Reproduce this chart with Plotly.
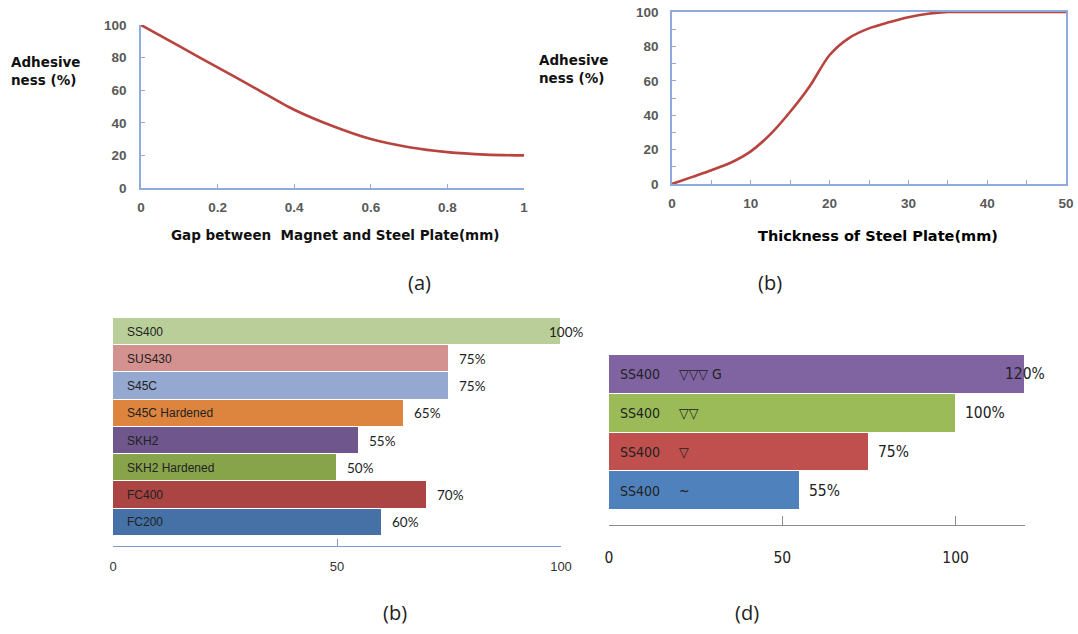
import plotly.graph_objects as go

W, H = 1078, 634

# (a) adhesive force against the air gap between magnet and plate
gap_mm = [0, 0.1, 0.2, 0.3, 0.4, 0.5, 0.6, 0.7, 0.8, 0.9, 1.0]
adhesion_gap = [100, 87, 74, 61, 48, 38, 30, 25, 22, 20.5, 20]

# (b) adhesive force against steel plate thickness
thickness_mm = [0, 2.5, 5, 7.5, 10, 12.5, 15, 17.5, 20, 22.5, 25, 27.5, 30, 32.5, 35, 40, 50]
adhesion_thickness = [0, 4, 8, 12.5, 19, 29, 42, 57, 75, 85, 90.5, 94, 97, 99, 100, 100, 100]

# (b) adhesive force by material (listed top to bottom)
materials = ["SS400", "SUS430", "S45C", "S45C Hardened", "SKH2",
             "SKH2 Hardened", "FC400", "FC200"]
material_adhesion = [100, 75, 75, 65, 55, 50, 70, 60]
material_colors = ["#B9CE98", "#D39190", "#95A9D0", "#DD843F",
                   "#6F568C", "#88A44B", "#AA4544", "#4571A6"]
material_ticks = [0, 50, 100]

# (d) adhesive force by surface finish of SS400 (listed top to bottom)
grade = "SS400"
finishes = ["▽▽▽ G", "▽▽", "▽", "~"]
finish_adhesion = [120, 100, 75, 55]
finish_colors = ["#8064A2", "#9BBB59", "#C0504D", "#4F81BD"]
finish_ticks = [0, 50, 100]

captions = ["(a)", "(b)", "(b)", "(d)"]


def fx(x):
    return x / W


def fy(y):
    return 1 - y / H


AXIS_BLUE = "#8FAADC"
CURVE_RED = "#B8433F"
TOP_FONT = "Liberation Sans"
TITLE_FONT = "DejaVu Sans"
CAL_FONT = "Lato"
ARIAL = "Liberation Sans"
NARROW_FONT = "Liberation Sans Narrow, DejaVu Sans Condensed, Liberation Sans"

fig = go.Figure()

fig.add_trace(go.Scatter(
    x=gap_mm, y=adhesion_gap, mode="lines",
    line=dict(color=CURVE_RED, width=2.6, shape="spline", smoothing=0.8),
    xaxis="x", yaxis="y", cliponaxis=False, showlegend=False))

fig.add_trace(go.Scatter(
    x=thickness_mm, y=adhesion_thickness, mode="lines",
    line=dict(color=CURVE_RED, width=2.6, shape="spline", smoothing=0.8),
    xaxis="x2", yaxis="y2", cliponaxis=False, showlegend=False))

fig.add_trace(go.Bar(
    x=material_adhesion, y=materials, orientation="h",
    marker=dict(color=material_colors, line=dict(color="white", width=1)),
    xaxis="x3", yaxis="y3", showlegend=False))

fig.add_trace(go.Bar(
    x=finish_adhesion, y=finishes, orientation="h",
    marker=dict(color=finish_colors, line=dict(color="white", width=1)),
    xaxis="x4", yaxis="y4", showlegend=False))

tick_top = dict(family=TOP_FONT, size=13.5, color="#595959", weight="bold")

layout = dict(
    width=W, height=H,
    margin=dict(l=0, r=0, t=0, b=0, pad=0, autoexpand=False),
    paper_bgcolor="white", plot_bgcolor="white",
    bargap=0,
    # (a)
    xaxis=dict(domain=[fx(141), fx(524)], range=[0, 1], dtick=0.2,
               showline=True, linecolor=AXIS_BLUE, linewidth=1.5,
               ticks="inside", ticklen=4, tickcolor=AXIS_BLUE,
               showgrid=False, zeroline=False, tickfont=tick_top,
               ticklabelstandoff=6, anchor="y", automargin=False),
    yaxis=dict(domain=[fy(188), fy(25)], range=[0, 100], dtick=20,
               showline=True, linecolor=AXIS_BLUE, linewidth=1.5,
               ticks="inside", ticklen=4, tickcolor=AXIS_BLUE,
               showgrid=False, zeroline=False, tickfont=tick_top,
               ticklabelstandoff=10, anchor="x", automargin=False),
    # (b) thickness
    xaxis2=dict(domain=[fx(672), fx(1066)], range=[0, 50], dtick=10,
                showline=True, mirror=True, linecolor=AXIS_BLUE, linewidth=1.5,
                ticks="inside", ticklen=4, tickcolor=AXIS_BLUE,
                minor=dict(dtick=5, ticks="inside", ticklen=4, tickcolor=AXIS_BLUE),
                showgrid=False, zeroline=False, tickfont=tick_top,
                ticklabelstandoff=6, anchor="y2", automargin=False),
    yaxis2=dict(domain=[fy(184), fy(12)], range=[0, 100], dtick=20,
                showline=True, mirror=True, linecolor=AXIS_BLUE, linewidth=1.5,
                ticks="inside", ticklen=4, tickcolor=AXIS_BLUE,
                minor=dict(dtick=10, ticks="inside", ticklen=4, tickcolor=AXIS_BLUE),
                showgrid=False, zeroline=False, tickfont=tick_top,
                ticklabelstandoff=9, anchor="x2", automargin=False),
    # (b) materials
    xaxis3=dict(domain=[fx(113), fx(561)], range=[0, 100], tickvals=material_ticks,
                showline=True, linecolor="#7F9CC9", linewidth=1.2,
                ticks="inside", ticklen=7, tickcolor="#7F9CC9",
                showgrid=False, zeroline=False,
                tickfont=dict(family=ARIAL, size=13, color="#333333"),
                ticklabelstandoff=8, anchor="y3", automargin=False),
    yaxis3=dict(domain=[fy(546), fy(318)], range=[7.87, -0.5],
                showticklabels=False, showline=False, ticks="",
                showgrid=False, zeroline=False, anchor="x3", automargin=False),
    # (d) surface finish
    xaxis4=dict(domain=[fx(609), fx(1025)], range=[0, 120], tickvals=finish_ticks,
                showline=True, linecolor="#8C8C8C", linewidth=1.2,
                ticks="inside", ticklen=9, tickcolor="#8C8C8C",
                showgrid=False, zeroline=False,
                tickfont=dict(family=NARROW_FONT, size=15.5, color="#222222"),
                ticklabelstandoff=18, anchor="y4", automargin=False),
    yaxis4=dict(domain=[fy(525), fy(355)], range=[3.88, -0.5],
                showticklabels=False, showline=False, ticks="",
                showgrid=False, zeroline=False, anchor="x4", automargin=False),
)

ann = []

# axis titles for the two curves
title_font = dict(family=TITLE_FONT, size=13.5, color="#111111", weight="bold")
ann.append(dict(xref="paper", yref="paper", x=fx(9), y=fy(71), xanchor="left", yanchor="middle",
                text="Adhesive<br>ness (%)", showarrow=False, align="left", font=title_font))
ann.append(dict(xref="paper", yref="paper", x=fx(537), y=fy(69), xanchor="left", yanchor="middle",
                text="Adhesive<br>ness (%)", showarrow=False, align="left", font=title_font))
ann.append(dict(xref="paper", yref="paper", x=fx(335), y=fy(235), xanchor="center", yanchor="middle",
                text="Gap between  Magnet and Steel Plate(mm)", showarrow=False,
                font=dict(family=TITLE_FONT, size=13.5, color="#111111", weight="bold")))
ann.append(dict(xref="paper", yref="paper", x=fx(878), y=fy(236), xanchor="center", yanchor="middle",
                text="Thickness of Steel Plate(mm)", showarrow=False,
                font=dict(family=TITLE_FONT, size=14.5, color="#000000", weight="bold")))

# bar labels: material names and values
for name, val in zip(materials, material_adhesion):
    ann.append(dict(xref="x3", yref="y3", x=0, y=name, xanchor="left", yanchor="middle",
                    xshift=12, text=name, showarrow=False,
                    font=dict(family=ARIAL, size=12, color="#222222")))
    at_edge = val >= 100
    ann.append(dict(xref="x3", yref="y3", x=val, y=name,
                    xanchor="right" if at_edge else "left", yanchor="middle",
                    xshift=24 if at_edge else 8, text=f"{val}%", showarrow=False,
                    font=dict(family=CAL_FONT, size=13.5, color="#222222")))

for fin, val in zip(finishes, finish_adhesion):
    ann.append(dict(xref="x4", yref="y4", x=0, y=fin, xanchor="left", yanchor="middle",
                    xshift=9, text=grade, showarrow=False,
                    font=dict(family=NARROW_FONT, size=14, color="#222222")))
    ann.append(dict(xref="x4", yref="y4", x=0, y=fin, xanchor="left", yanchor="middle",
                    xshift=68, text=fin, showarrow=False,
                    font=dict(family=NARROW_FONT, size=14, color="#222222")))
    at_edge = val >= 120
    ann.append(dict(xref="x4", yref="y4", x=val, y=fin,
                    xanchor="right" if at_edge else "left", yanchor="middle",
                    xshift=22 if at_edge else 7, text=f"{val}%", showarrow=False,
                    font=dict(family=NARROW_FONT, size=15.5, color="#222222")))

# panel captions
for cap, (cx, cy) in zip(captions, [(419, 282), (770, 282), (395, 612), (747, 612)]):
    ann.append(dict(xref="paper", yref="paper", x=fx(cx), y=fy(cy), xanchor="center", yanchor="middle",
                    text=cap, showarrow=False,
                    font=dict(family="Open Sans", size=20, color="#222222")))

layout["annotations"] = ann
fig.update_layout(**layout)

fig.write_html("out.html")
